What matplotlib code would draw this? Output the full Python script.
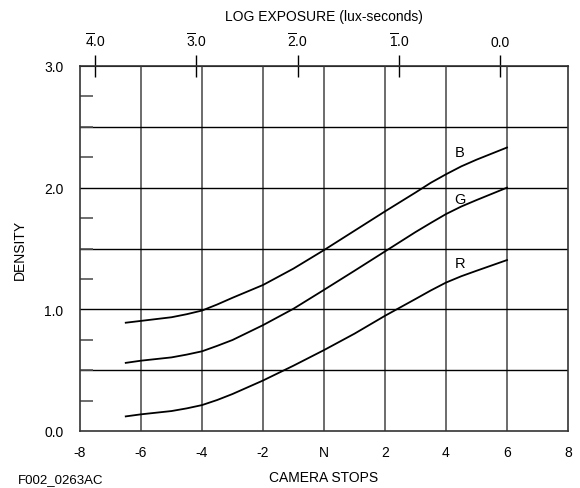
import matplotlib
matplotlib.use("Agg")
import matplotlib.pyplot as plt
import numpy as np

plt.rcParams['font.family'] = ['Liberation Sans', 'DejaVu Sans']
plt.rcParams['mathtext.fontset'] = 'custom'
plt.rcParams['mathtext.rm'] = 'Liberation Sans'
plt.rcParams['mathtext.it'] = 'Liberation Sans'
plt.rcParams['mathtext.bf'] = 'Liberation Sans'

stops = [-6.5, -6, -5, -4.5, -4, -3.5, -3, -2, -1, 0, 1, 2, 3, 3.5, 4, 4.5, 5, 6]
blue = [0.89, 0.905, 0.935, 0.96, 0.99, 1.04, 1.095, 1.20, 1.335, 1.487, 1.646, 1.805, 1.96, 2.04, 2.11, 2.175, 2.23, 2.33]
green = [0.56, 0.578, 0.605, 0.628, 0.655, 0.70, 0.748, 0.87, 1.005, 1.16, 1.317, 1.476, 1.635, 1.71, 1.783, 1.845, 1.898, 2.00]
red = [0.12, 0.137, 0.164, 0.186, 0.213, 0.255, 0.304, 0.415, 0.537, 0.665, 0.80, 0.947, 1.085, 1.155, 1.22, 1.272, 1.317, 1.405]

x_ticks = [-8, -6, -4, -2, 0, 2, 4, 6, 8]
x_labels = ['-8', '-6', '-4', '-2', 'N', '2', '4', '6', '8']
y_ticks = [0, 1, 2, 3]
y_labels = ['0.0', '1.0', '2.0', '3.0']
log_exp = [-4.0, -3.0, -2.0, -1.0, 0.0]
log_labels = [r'$\overline{\mathrm{4}}$.0', r'$\overline{\mathrm{3}}$.0',
              r'$\overline{\mathrm{2}}$.0', r'$\overline{\mathrm{1}}$.0', '0.0']
stops_at_log0 = 5.78

fig = plt.figure(figsize=(5.8, 4.89), dpi=100)
ax = fig.add_axes([80/580, 1-432/489, 488/580, 365/489])
ax.set_xlim(-8, 8)
ax.set_ylim(0, 3)

# grid
for xv in [-6, -4, -2, 0, 2, 4, 6]:
    ax.axvline(xv, color='#444444', lw=1.1, zorder=1)
for yv in [0.5, 1.0, 1.5, 2.0, 2.5]:
    ax.axhline(yv, color='black', lw=1.0, zorder=1)

for ys, lab, ly in [(blue, 'B', 2.29), (green, 'G', 1.91), (red, 'R', 1.38)]:
    ax.plot(stops, ys, color='black', lw=1.3, zorder=3, solid_joinstyle='round')
    ax.text(4.45, ly, lab, fontsize=10.5, ha='center', va='center', zorder=4)

ax.set_xticks(x_ticks)
ax.set_xticklabels(x_labels, fontsize=10)
ax.tick_params(axis='x', length=0, pad=10)
ax.set_yticks(y_ticks)
ax.set_yticklabels(y_labels, fontsize=10)
ax.set_yticks(np.arange(0.25, 3.0, 0.25), minor=True)
ax.tick_params(axis='y', which='major', length=0, pad=12)
ax.tick_params(axis='y', which='minor', direction='in', length=9, width=1.2, color='#555555')
for s in ax.spines.values():
    s.set_color('#333333')
    s.set_linewidth(1.2)

ax.set_xlabel('CAMERA STOPS', fontsize=10, labelpad=8)
ax.set_ylabel('DENSITY', fontsize=10, labelpad=12)

sec = ax.secondary_xaxis('top', functions=(lambda s: (s - stops_at_log0) * np.log10(2),
                                           lambda l: l / np.log10(2) + stops_at_log0))
sec.set_xticks(log_exp)
sec.set_xticklabels(log_labels, fontsize=10)
sec.tick_params(direction='inout', length=16, width=1.0, pad=4)
sec.set_xlabel('LOG EXPOSURE (lux-seconds)', fontsize=10, labelpad=8)

fig.text(18/580, 1-483/489, 'F002_0263AC', fontsize=9.5, ha='left', va='baseline')

fig.savefig('out.png', dpi=100)
